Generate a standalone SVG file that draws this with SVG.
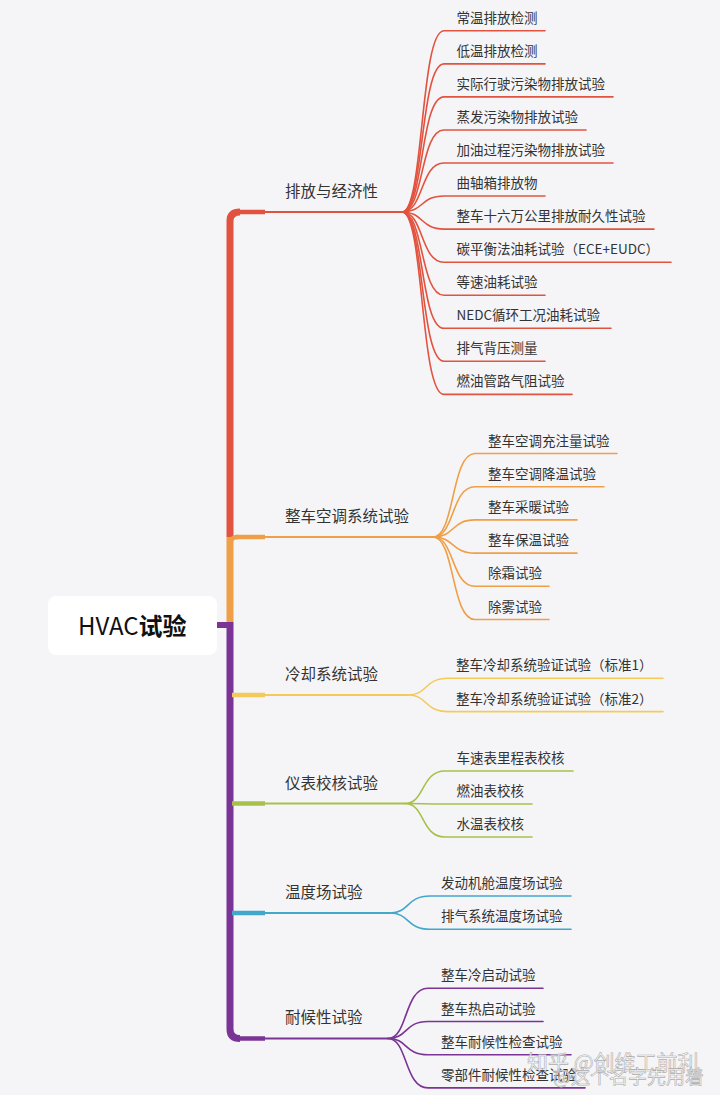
<svg xmlns="http://www.w3.org/2000/svg" width="720" height="1095" viewBox="0 0 720 1095">
<style>
text{font-family:"Noto Sans CJK SC","Noto Sans",sans-serif;fill:#333}
.c{font-size:13.5px}
.b{font-size:15.5px}
.l{fill:none;stroke-width:1.6;stroke-linecap:round}
.h{fill:none;stroke-width:2}
.k{fill:none;stroke-width:4.5}
.t{fill:none;stroke-width:7}
.r{stroke:#e2533f}.o{stroke:#ef9f45}.y{stroke:#f4cb5a}.g{stroke:#a6c14a}.bl{stroke:#41a7cb}.p{stroke:#7a3495}
.wm{fill:#fff;stroke:#a0a0a0;stroke-width:0.6;opacity:0.85}
</style>
<rect width="720" height="1095" fill="#f5f5f8"/>
<g id="connectors">
<path class="t r" d="M240 212 Q230 212 230 221 V537"/>
<path class="t o" d="M230 537 V622"/>
<path class="t p" d="M230 622 V1029 Q230 1038.5 240 1038.5"/>
<path class="p" d="M217 625 H230" stroke-width="6" fill="none"/>
<path class="k r" d="M236 212 H265"/><path class="h r" d="M264 212 H402"/>
<path class="k o" d="M238 537 Q232 537 231 541"/><path class="k o" d="M236 537 H265"/><path class="h o" d="M264 537 H433"/>
<path class="k y" d="M232 695 H265"/><path class="h y" d="M264 695 H408"/>
<path class="k g" d="M232 803.5 H265"/><path class="h g" d="M264 803.5 H405"/>
<path class="k bl" d="M232 913 H265"/><path class="h bl" d="M264 913 H390"/>
<path class="k p" d="M236 1038.5 H265"/><path class="h p" d="M264 1038.5 H388"/>
<path class="l r" d="M402 212 C424 212 420 30.8 444 30.8 H545"/>
<path class="l r" d="M402 212 C424 212 420 63.9 444 63.9 H545"/>
<path class="l r" d="M402 212 C424 212 420 96.9 444 96.9 H613"/>
<path class="l r" d="M402 212 C424 212 420 130 444 130 H586"/>
<path class="l r" d="M402 212 C424 212 420 163 444 163 H613"/>
<path class="l r" d="M402 212 C424 212 420 196 444 196 H545"/>
<path class="l r" d="M402 212 C424 212 420 229.1 444 229.1 H654"/>
<path class="l r" d="M402 212 C424 212 420 262.2 444 262.2 H671"/>
<path class="l r" d="M402 212 C424 212 420 295.2 444 295.2 H545"/>
<path class="l r" d="M402 212 C424 212 420 328.3 444 328.3 H611"/>
<path class="l r" d="M402 212 C424 212 420 361.3 444 361.3 H545"/>
<path class="l r" d="M402 212 C424 212 420 394.4 444 394.4 H572"/>
<path class="l o" d="M433 537 C455 537 451 453.5 475 453.5 H617"/>
<path class="l o" d="M433 537 C455 537 451 486.7 475 486.7 H604"/>
<path class="l o" d="M433 537 C455 537 451 519.9 475 519.9 H577"/>
<path class="l o" d="M433 537 C455 537 451 553.1 475 553.1 H577"/>
<path class="l o" d="M433 537 C455 537 451 586.3 475 586.3 H549"/>
<path class="l o" d="M433 537 C455 537 451 619.5 475 619.5 H549"/>
<path class="l y" d="M408 695 C428 695 424 678.3 448 678.3 H663"/>
<path class="l y" d="M408 695 C428 695 424 711.6 448 711.6 H663"/>
<path class="l g" d="M405 803.5 C425 803.5 421 771 445 771 H573"/>
<path class="l g" d="M405 803.5 C425 803.5 421 804 445 804 H532"/>
<path class="l g" d="M405 803.5 C425 803.5 421 837 445 837 H532"/>
<path class="l bl" d="M390 913 C410 913 406 896 430 896 H571"/>
<path class="l bl" d="M390 913 C410 913 406 929.3 430 929.3 H571"/>
<path class="l p" d="M388 1038.5 C408 1038.5 404 988.3 428 988.3 H543"/>
<path class="l p" d="M388 1038.5 C408 1038.5 404 1021.5 428 1021.5 H543"/>
<path class="l p" d="M388 1038.5 C408 1038.5 404 1054.7 428 1054.7 H571"/>
<path class="l p" d="M388 1038.5 C408 1038.5 404 1087.9 428 1087.9 H585"/>
</g>
<g id="root">
<rect x="48" y="596" width="169" height="59" rx="8" fill="#ffffff"/>
<text x="78" y="635" font-size="24" style="fill:#111"><tspan>HVAC</tspan><tspan font-weight="bold">试验</tspan></text>
</g>
<g id="b1"><text class="b" x="285" y="197">排放与经济性</text></g>
<g id="b1c1"><text class="c" x="456.5" y="22.8">常温排放检测</text></g>
<g id="b1c2"><text class="c" x="456.5" y="55.9">低温排放检测</text></g>
<g id="b1c3"><text class="c" x="456.5" y="88.9">实际行驶污染物排放试验</text></g>
<g id="b1c4"><text class="c" x="456.5" y="122">蒸发污染物排放试验</text></g>
<g id="b1c5"><text class="c" x="456.5" y="155">加油过程污染物排放试验</text></g>
<g id="b1c6"><text class="c" x="456.5" y="188">曲轴箱排放物</text></g>
<g id="b1c7"><text class="c" x="456.5" y="221.1">整车十六万公里排放耐久性试验</text></g>
<g id="b1c8"><text class="c" x="456.5" y="254.2">碳平衡法油耗试验（ECE+EUDC）</text></g>
<g id="b1c9"><text class="c" x="456.5" y="287.2">等速油耗试验</text></g>
<g id="b1c10"><text class="c" x="456.5" y="320.3">NEDC循环工况油耗试验</text></g>
<g id="b1c11"><text class="c" x="456.5" y="353.3">排气背压测量</text></g>
<g id="b1c12"><text class="c" x="456.5" y="386.4">燃油管路气阻试验</text></g>
<g id="b2"><text class="b" x="285" y="522">整车空调系统试验</text></g>
<g id="b2c1"><text class="c" x="488" y="445.5">整车空调充注量试验</text></g>
<g id="b2c2"><text class="c" x="488" y="478.7">整车空调降温试验</text></g>
<g id="b2c3"><text class="c" x="488" y="511.9">整车采暖试验</text></g>
<g id="b2c4"><text class="c" x="488" y="545.1">整车保温试验</text></g>
<g id="b2c5"><text class="c" x="488" y="578.3">除霜试验</text></g>
<g id="b2c6"><text class="c" x="488" y="611.5">除雾试验</text></g>
<g id="b3"><text class="b" x="285" y="680">冷却系统试验</text></g>
<g id="b3c1"><text class="c" x="456" y="670.3">整车冷却系统验证试验（标准1）</text></g>
<g id="b3c2"><text class="c" x="456" y="703.6">整车冷却系统验证试验（标准2）</text></g>
<g id="b4"><text class="b" x="285" y="789">仪表校核试验</text></g>
<g id="b4c1"><text class="c" x="456.5" y="763">车速表里程表校核</text></g>
<g id="b4c2"><text class="c" x="456.5" y="796">燃油表校核</text></g>
<g id="b4c3"><text class="c" x="456.5" y="829">水温表校核</text></g>
<g id="b5"><text class="b" x="285" y="898">温度场试验</text></g>
<g id="b5c1"><text class="c" x="441" y="888">发动机舱温度场试验</text></g>
<g id="b5c2"><text class="c" x="441" y="921.3">排气系统温度场试验</text></g>
<g id="b6"><text class="b" x="285" y="1023">耐候性试验</text></g>
<g id="b6c1"><text class="c" x="441" y="980.3">整车冷启动试验</text></g>
<g id="b6c2"><text class="c" x="441" y="1013.5">整车热启动试验</text></g>
<g id="b6c3"><text class="c" x="441" y="1046.7">整车耐候性检查试验</text></g>
<g id="b6c4"><text class="c" x="441" y="1079.9">零部件耐候性检查试验</text></g>
<g id="watermark">
<text class="wm" x="527" y="1070" font-size="21">知乎 @创维工前利</text>
<text class="wm" x="553" y="1084" font-size="19">@这个名字先用着</text>
</g>
</svg>
